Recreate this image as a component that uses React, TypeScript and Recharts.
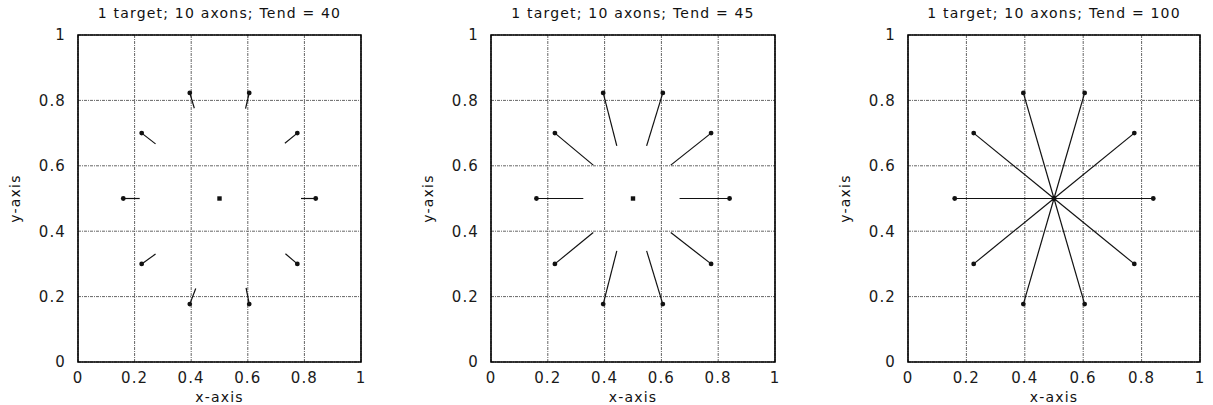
import { ScatterChart, Scatter, XAxis, YAxis, CartesianGrid, ReferenceLine, ReferenceArea, Label } from "recharts";

const ticks = [0, 0.2, 0.4, 0.6, 0.8, 1];
const titles = ["1 target; 10 axons; Tend = 40", "1 target; 10 axons; Tend = 45", "1 target; 10 axons; Tend = 100"];

// axon somas
const startX = [0.395, 0.605, 0.775, 0.84, 0.775, 0.605, 0.395, 0.225, 0.16, 0.225];
const startY = [0.823, 0.823, 0.70, 0.50, 0.30, 0.177, 0.177, 0.30, 0.50, 0.70];

// growth cone tips at each end time
const tip40X = [0.411, 0.592, 0.731, 0.788, 0.733, 0.594, 0.416, 0.274, 0.218, 0.274];
const tip40Y = [0.776, 0.775, 0.669, 0.50, 0.331, 0.227, 0.225, 0.33, 0.50, 0.667];
const tip45X = [0.443, 0.548, 0.633, 0.664, 0.633, 0.548, 0.443, 0.36, 0.325, 0.36];
const tip45Y = [0.661, 0.661, 0.602, 0.50, 0.396, 0.340, 0.340, 0.396, 0.50, 0.602];
const tip100X = [0.5, 0.5, 0.5, 0.5, 0.5, 0.5, 0.5, 0.5, 0.5, 0.5];
const tip100Y = [0.5, 0.5, 0.5, 0.5, 0.5, 0.5, 0.5, 0.5, 0.5, 0.5];

const targetX = [0.5];
const targetY = [0.5];

const starts = startX.map((x, i) => ({ x, y: startY[i] }));
const targets = targetX.map((x, i) => ({ x, y: targetY[i] }));

const panels = [
  { title: titles[0], tipX: tip40X, tipY: tip40Y, plotLeft: 78, plotRight: 361 },
  { title: titles[1], tipX: tip45X, tipY: tip45Y, plotLeft: 491, plotRight: 775 },
  { title: titles[2], tipX: tip100X, tipY: tip100Y, plotLeft: 908, plotRight: 1200 },
];

const FONT = "'DejaVu Sans', Verdana, sans-serif";
const PLOT_TOP = 35;
const PLOT_BOTTOM = 362;
const Y_AXIS_W = 78;
const H = 405;

function Panel({ title, tipX, tipY, plotLeft, plotRight }: any) {
  const chartLeft = plotLeft - Y_AXIS_W;
  const width = plotRight - chartLeft + 12;
  const tickStyle = { fill: "#1a1a1a", fontSize: 15, letterSpacing: 1.1 };

  return (
    <div style={{ position: "absolute", left: chartLeft, top: 0, width, height: H }}>
      <div
        style={{
          position: "absolute",
          left: Y_AXIS_W,
          width: plotRight - plotLeft,
          top: 5,
          textAlign: "center",
          fontSize: 14,
          letterSpacing: 1.2,
          whiteSpace: "nowrap",
          color: "#111",
        }}
      >
        {title}
      </div>
      <ScatterChart width={width} height={H} margin={{ top: PLOT_TOP, right: 12, bottom: 0, left: 0 }}>
        <CartesianGrid stroke="#555" strokeDasharray="3 1 1 1" strokeWidth={0.9} />
        <XAxis
          type="number"
          dataKey="x"
          domain={[0, 1]}
          ticks={ticks}
          height={H - PLOT_BOTTOM}
          axisLine={false}
          tickLine={false}
          tickMargin={4}
          tick={tickStyle}
        >
          <Label
            content={({ viewBox }: any) => (
              <text
                x={viewBox.x + viewBox.width / 2}
                y={viewBox.y + 40}
                textAnchor="middle"
                fontSize={14}
                letterSpacing={1.2}
                fill="#111"
              >
                x-axis
              </text>
            )}
          />
        </XAxis>
        <YAxis
          type="number"
          dataKey="y"
          domain={[0, 1]}
          ticks={ticks}
          width={Y_AXIS_W}
          axisLine={false}
          tickLine={false}
          tickMargin={6}
          tick={tickStyle}
        >
          <Label
            content={({ viewBox }: any) => {
              const cx = viewBox.x + 15;
              const cy = viewBox.y + viewBox.height / 2;
              return (
                <text
                  x={cx}
                  y={cy}
                  transform={`rotate(-90 ${cx} ${cy})`}
                  textAnchor="middle"
                  dominantBaseline="central"
                  fontSize={14}
                  letterSpacing={1.2}
                  fill="#111"
                >
                  y-axis
                </text>
              );
            }}
          />
        </YAxis>
        <ReferenceArea x1={0} x2={1} y1={0} y2={1} fill="none" stroke="#000" strokeWidth={1.6} fillOpacity={0} />
        {startX.map((x, i) => (
          <ReferenceLine
            key={i}
            segment={[
              { x, y: startY[i] },
              { x: tipX[i], y: tipY[i] },
            ]}
            stroke="#111"
            strokeWidth={1.2}
          />
        ))}
        <Scatter
          data={targets}
          isAnimationActive={false}
          shape={(p: any) => <rect x={p.cx - 2.2} y={p.cy - 2.2} width={4.4} height={4.4} fill="#111" />}
        />
        <Scatter
          data={starts}
          isAnimationActive={false}
          shape={(p: any) => <circle cx={p.cx} cy={p.cy} r={2.4} fill="#111" />}
        />
      </ScatterChart>
    </div>
  );
}

export default function App() {
  return (
    <div style={{ position: "absolute", left: 0, top: 0, width: 1213, height: H, background: "#fff", fontFamily: FONT }}>
      {panels.map((p, i) => (
        <Panel key={i} {...p} />
      ))}
    </div>
  );
}
